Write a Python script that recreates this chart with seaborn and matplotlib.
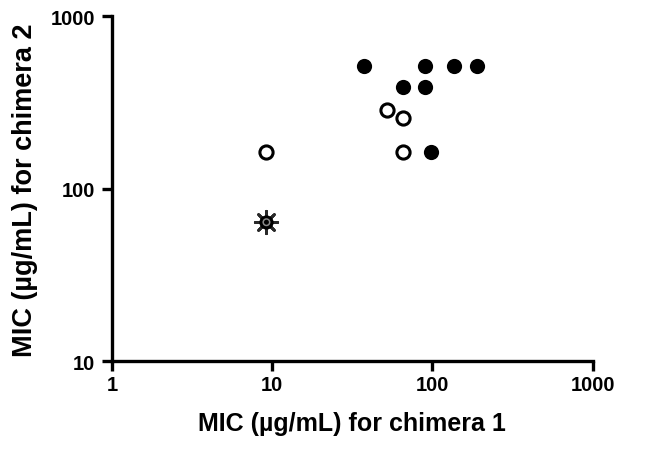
import matplotlib
matplotlib.use('Agg')
import matplotlib.pyplot as plt
import seaborn as sns

# MIC values (chimera 1 on x, chimera 2 on y)
filled_x = [37.6, 89.9, 137, 189, 65.3, 89.9, 97.6]
filled_y = [517, 517, 517, 517, 387, 387, 164]
open_x = [9.2, 51.9, 65.3, 65.3]
open_y = [164, 288, 256, 164]
star_x = [9.2]
star_y = [64]

x_ticks = [1, 10, 100, 1000]
y_ticks = [10, 100, 1000]
x_labels = ['1', '10', '100', '1000']
y_labels = ['10', '100', '1000']

sns.set_style('ticks')
plt.rcParams['font.family'] = ['Liberation Sans', 'DejaVu Sans']
plt.rcParams['text.color'] = 'black'
plt.rcParams['axes.labelcolor'] = 'black'
plt.rcParams['xtick.color'] = 'black'
plt.rcParams['ytick.color'] = 'black'

fig = plt.figure(figsize=(6.64, 4.56), dpi=100)
ax = fig.add_axes([0.1687, 0.2055, 0.7239, 0.7566])

# filled circles
sns.scatterplot(x=filled_x, y=filled_y, ax=ax, color='black', s=120,
                edgecolor='black', linewidth=0, zorder=3)
# open circles
sns.scatterplot(x=open_x, y=open_y, ax=ax, color='white', s=90,
                edgecolor='black', linewidth=2.2, zorder=3)
# the odd one: dot with rays
ax.scatter(star_x, star_y, marker=(8, 2, 0), s=260, color='#2a2a2a',
           linewidth=2.0, zorder=3)
ax.scatter(star_x, star_y, marker='o', s=85, color='black', zorder=4)
ax.scatter(star_x, star_y, marker='o', s=22, facecolor='none',
           edgecolor='#8a8a8a', linewidth=1.1, zorder=5)

ax.set_xscale('log')
ax.set_yscale('log')
ax.set_xlim(1, 1000)
ax.set_ylim(10, 1000)
ax.set_xticks(x_ticks)
ax.set_xticklabels(x_labels)
ax.set_yticks(y_ticks)
ax.set_yticklabels(y_labels)
ax.minorticks_off()

sns.despine(ax=ax)
for side in ['left', 'bottom']:
    ax.spines[side].set_linewidth(2.4)
    ax.spines[side].set_color('black')
ax.tick_params(direction='out', length=7, width=2.4, color='black',
               labelcolor='black', labelsize=14.5)
ax.tick_params(axis='y', pad=5)
ax.tick_params(axis='x', pad=3)
for lab in ax.get_xticklabels() + ax.get_yticklabels():
    lab.set_fontweight('bold')

ax.set_xlabel('MIC (\u00b5g/mL) for chimera 1', fontsize=18,
              fontweight='bold')
ax.set_ylabel('MIC (\u00b5g/mL) for chimera 2', fontsize=19.5,
              fontweight='bold')
ax.xaxis.set_label_coords(0.5, -0.145)
ax.yaxis.set_label_coords(-0.155, 0.5)

fig.savefig('out.png', dpi=100)
